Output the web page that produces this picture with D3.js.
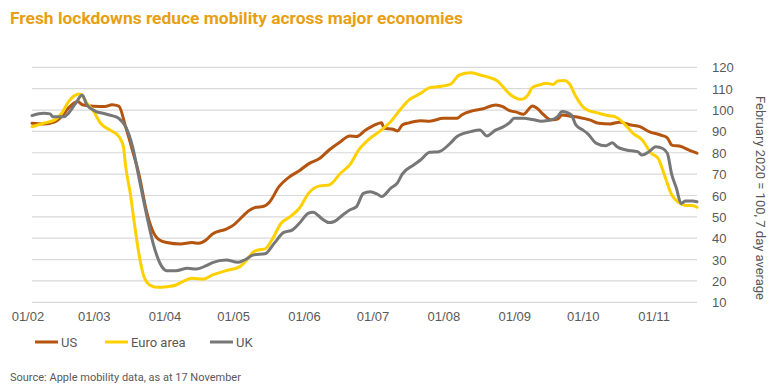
<!doctype html>
<html lang="en">
<head>
  <meta charset="utf-8">
  <title>Fresh lockdowns reduce mobility</title>
  <style>
    body { margin: 0; background: #fff; }
    svg { font-family: Roboto, "Open Sans", sans-serif; }
    .grid line { stroke: #d9d9d9; stroke-width: 1.2; }
    .tick text { fill: #595959; font-size: 13px; }
    .series { fill: none; stroke-width: 3; stroke-linejoin: round; stroke-linecap: round; }
  </style>
</head>
<body>
  <div id="chart"></div>
  <script src="https://cdn.jsdelivr.net/npm/d3@7"></script>
  <script>
// values, dd/mm of 2020, index Feb 2020 = 100
var us = [
  ["03/02", 93.8], ["08/02", 93.5], ["13/02", 94.5], ["16/02", 97], ["19/02", 101], ["23/02", 104],
  ["25/02", 102.5], ["01/03", 101.8], ["06/03", 101.7], ["09/03", 102.5], ["12/03", 101.8],
  ["15/03", 92], ["18/03", 81], ["21/03", 69], ["24/03", 53], ["27/03", 43], ["30/03", 39],
  ["02/04", 38], ["08/04", 37.3], ["13/04", 38], ["16/04", 37.6], ["19/04", 39], ["22/04", 42],
  ["28/04", 44.3], ["01/05", 46], ["04/05", 49], ["08/05", 53], ["11/05", 54.5], ["14/05", 54.8],
  ["17/05", 57], ["21/05", 64], ["26/05", 69], ["30/05", 71.6], ["03/06", 74.8], ["08/06", 77.4],
  ["12/06", 81.3], ["17/06", 85.2], ["21/06", 87.9], ["24/06", 87.6], ["28/06", 90.7],
  ["01/07", 92.5], ["05/07", 94.1], ["06/07", 91.5], ["10/07", 91], ["12/07", 90.2], ["14/07", 93],
  ["17/07", 94], ["22/07", 95], ["26/07", 94.8], ["01/08", 96.1], ["07/08", 96.1], ["09/08", 97.7],
  ["14/08", 99.7], ["18/08", 100.5], ["24/08", 102.4], ["27/08", 101.6], ["30/08", 99.7],
  ["02/09", 99], ["05/09", 98], ["09/09", 101.9], ["11/09", 100.8], ["14/09", 97.7], ["17/09", 95.4],
  ["20/09", 95.8], ["22/09", 97.7], ["25/09", 97.2], ["30/09", 96.4], ["04/10", 95.4], ["08/10", 93.8],
  ["13/10", 93.5], ["17/10", 94.3], ["22/10", 93], ["26/10", 92.2], ["30/10", 89.9], ["04/11", 88.3],
  ["07/11", 87], ["09/11", 83.6], ["13/11", 82.9], ["17/11", 81], ["20/11", 79.8]
];
var euro = [
  ["03/02", 92.2], ["08/02", 93.8], ["13/02", 95.4], ["16/02", 98.5], ["19/02", 103.9], ["22/02", 107],
  ["24/02", 107.5], ["27/02", 103.2], ["01/03", 99.3], ["04/03", 93.8], ["08/03", 90.7], ["12/03", 87.6],
  ["14/03", 82.9], ["15/03", 73.5], ["17/03", 61], ["19/03", 45.4], ["21/03", 31.4], ["23/03", 22],
  ["26/03", 17.8], ["29/03", 17], ["02/04", 17.3], ["06/04", 18.1], ["09/04", 19.7], ["13/04", 21.2],
  ["18/04", 20.8], ["22/04", 22.8], ["28/04", 24.8], ["04/05", 26.7], ["07/05", 29.8], ["10/05", 33.7],
  ["12/05", 34.5], ["15/05", 35], ["18/05", 39.2], ["22/05", 47], ["26/05", 50.1], ["30/05", 54],
  ["03/06", 61], ["08/06", 64.5], ["12/06", 64.9], ["17/06", 70.4], ["21/06", 74.3], ["25/06", 81.3],
  ["30/06", 86.8], ["04/07", 89.9], ["09/07", 94.6], ["13/07", 100], ["17/07", 104.7], ["22/07", 107.8],
  ["26/07", 110.5], ["30/07", 111], ["04/08", 112], ["08/08", 116.4], ["13/08", 117.5], ["17/08", 116.4],
  ["21/08", 115.3], ["25/08", 113.3], ["27/08", 111], ["30/08", 107.5], ["02/09", 105.5], ["04/09", 105],
  ["07/09", 107], ["09/09", 110.6], ["12/09", 111.7], ["15/09", 112.5], ["18/09", 112], ["20/09", 113.6],
  ["23/09", 113.8], ["25/09", 112.5], ["28/09", 106.3], ["01/10", 101.6], ["03/10", 100], ["07/10", 98.8],
  ["12/10", 97.4], ["15/10", 96.9], ["19/10", 93.8], ["23/10", 89.1], ["27/10", 86], ["31/10", 79.8],
  ["03/11", 77.4], ["06/11", 68.8], ["09/11", 60.2], ["12/11", 56.7], ["15/11", 55.3], ["18/11", 55.3],
  ["20/11", 54.5]
];
var uk = [
  ["03/02", 97.4], ["08/02", 98.5], ["11/02", 98.2], ["12/02", 96.9], ["17/02", 96.9], ["18/02", 97.5],
  ["22/02", 103], ["25/02", 107], ["27/02", 102.4], ["02/03", 99.3], ["05/03", 98.5], ["09/03", 97.4],
  ["12/03", 96.1], ["15/03", 92.2], ["18/03", 82.9], ["21/03", 67.3], ["24/03", 51.7], ["27/03", 37.6],
  ["30/03", 28.3], ["02/04", 24.8], ["06/04", 24.8], ["11/04", 25.9], ["15/04", 25.6], ["19/04", 27],
  ["22/04", 28.6], ["28/04", 29.8], ["03/05", 28.7], ["06/05", 29.8], ["10/05", 32.2], ["15/05", 32.7],
  ["19/05", 37.6], ["23/05", 42.6], ["27/05", 43.9], ["30/05", 47], ["03/06", 51.7], ["05/06", 52.2],
  ["09/06", 49], ["12/06", 47.3], ["14/06", 47.7], ["18/06", 50.9], ["21/06", 53.2], ["24/06", 54.8],
  ["27/06", 61], ["30/06", 61.8], ["03/07", 60.7], ["05/07", 59.5], ["09/07", 63.4], ["12/07", 66],
  ["14/07", 70], ["19/07", 74.3], ["22/07", 76.6], ["26/07", 80.2], ["30/07", 80.5], ["04/08", 84.4],
  ["07/08", 87.6], ["13/08", 89.9], ["17/08", 90.7], ["20/08", 87.9], ["24/08", 90.7], ["27/08", 92],
  ["30/08", 94.1], ["01/09", 96.1], ["05/09", 96.1], ["09/09", 95.6], ["13/09", 94.8], ["17/09", 95.3],
  ["20/09", 96.9], ["22/09", 99.3], ["26/09", 97.7], ["28/09", 93], ["01/10", 90.7], ["03/10", 89.1],
  ["07/10", 84.4], ["11/10", 83.3], ["14/10", 84.7], ["16/10", 82.8], ["20/10", 81.3], ["25/10", 80.5],
  ["27/10", 78.9], ["30/10", 80.5], ["02/11", 82.8], ["05/11", 82], ["07/11", 79.8], ["09/11", 69.6],
  ["11/11", 63.4], ["13/11", 56.3], ["15/11", 57.4], ["18/11", 57.4], ["20/11", 57.1]
];

var seriesNames = ["US", "Euro area", "UK"];
var seriesColors = ["#b4540f", "#ffd000", "#777777"];
var monthTicks = ["01/02", "01/03", "01/04", "01/05", "01/06", "01/07", "01/08", "01/09", "01/10", "01/11"];
var yTicks = [10, 20, 30, 40, 50, 60, 70, 80, 90, 100, 110, 120];

(function(){
  var width = 781, height = 392;
  var parse = d3.timeParse("%d/%m/%Y");
  var toDate = function(s) { return parse(s + "/2020"); };

  var svg = d3.select("#chart").append("svg")
      .attr("width", width)
      .attr("height", height);

  var x = d3.scaleTime()
      .domain([toDate("03/02"), toDate("20/11")])
      .range([32, 697]);
  var y = d3.scaleLinear()
      .domain([10, 120])
      .range([302.3, 67.3]);

  // gridlines
  svg.append("g").attr("class", "grid")
    .selectAll("line").data(yTicks).enter().append("line")
      .attr("x1", x.range()[0]).attr("x2", x.range()[1])
      .attr("y1", function(d){ return y(d); })
      .attr("y2", function(d){ return y(d); });

  // right axis
  var yAxis = svg.append("g")
      .attr("transform", "translate(697,0)")
      .call(d3.axisRight(y).tickValues(yTicks).tickSize(0).tickPadding(15));
  yAxis.select(".domain").remove();
  yAxis.selectAll("text").attr("dy", "0.35em");

  // bottom axis
  var xAxis = svg.append("g")
      .attr("transform", "translate(0,309)")
      .call(d3.axisBottom(x).tickValues(monthTicks.map(toDate))
        .tickFormat(d3.timeFormat("%d/%m")).tickSize(0).tickPadding(3));
  xAxis.select(".domain").remove();

  // axis title
  svg.append("text")
      .attr("transform", "translate(756,198) rotate(90)")
      .attr("text-anchor", "middle")
      .attr("fill", "#595959")
      .style("font-size", "13px")
      .text("February 2020 = 100, 7 day average");

  var line = d3.line()
      .x(function(d){ return x(toDate(d[0])); })
      .y(function(d){ return y(d[1]); })
      .curve(d3.curveMonotoneX);

  var allSeries = [us, euro, uk];
  allSeries.forEach(function(s, i) {
    svg.append("path")
      .datum(s)
      .attr("class", "series")
      .attr("stroke", seriesColors[i])
      .attr("d", line);
  });

  // title
  svg.append("text")
      .attr("x", 10).attr("y", 24)
      .attr("fill", "#e8a013")
      .style("font-size", "17.4px")
      .style("font-weight", "bold")
      .text("Fresh lockdowns reduce mobility across major economies");

  // legend
  var legendX = [35, 105, 210];
  var legend = svg.append("g").selectAll("g").data(seriesNames).enter().append("g")
      .attr("transform", function(d, i){ return "translate(" + legendX[i] + ",342)"; });
  legend.append("line")
      .attr("x1", 0).attr("x2", 23)
      .attr("stroke", function(d, i){ return seriesColors[i]; })
      .attr("stroke-width", 3);
  legend.append("text")
      .attr("x", 26).attr("dy", "0.35em")
      .attr("fill", "#595959")
      .style("font-size", "13px")
      .text(function(d){ return d; });

  // source
  svg.append("text")
      .attr("x", 10).attr("y", 381)
      .attr("fill", "#595959")
      .style("font-size", "11px")
      .text("Source: Apple mobility data, as at 17 November");
})();
  </script>
</body>
</html>
